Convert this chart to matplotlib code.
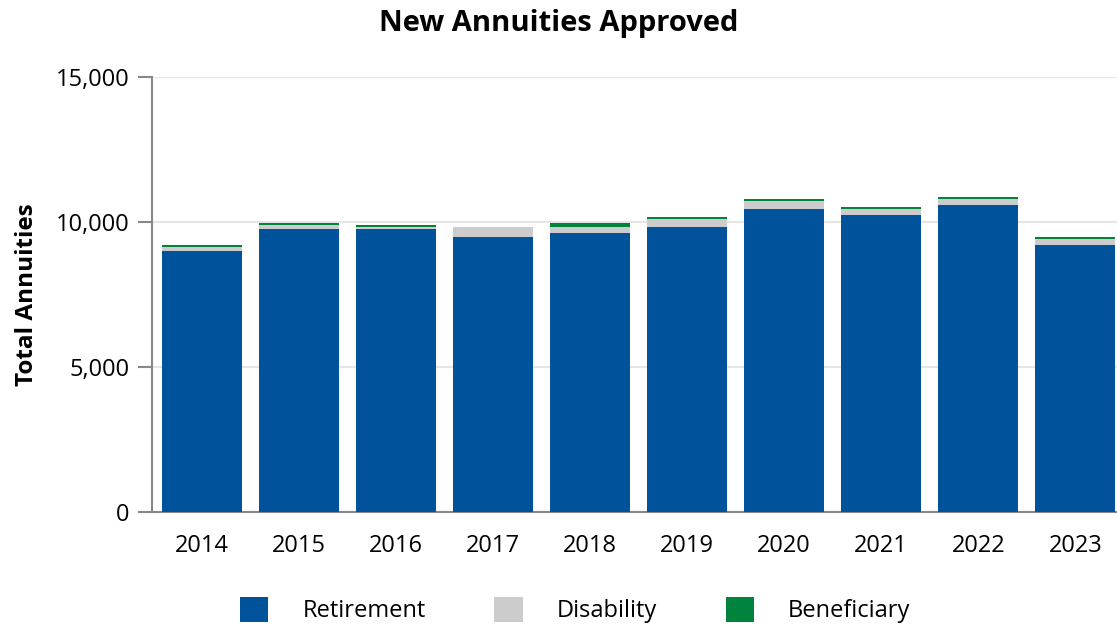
import matplotlib
matplotlib.use("Agg")
import matplotlib.pyplot as plt
from matplotlib.patches import Patch
from matplotlib.ticker import FuncFormatter
import numpy as np

plt.rcParams["font.family"] = ["Open Sans", "DejaVu Sans"]

years = ["2014", "2015", "2016", "2017", "2018", "2019", "2020", "2021", "2022", "2023"]
retirement = [9010, 9770, 9770, 9500, 9630, 9840, 10460, 10255, 10600, 9220]
disability = [140, 140, 70, 340, 210, 280, 280, 210, 210, 210]
beneficiary = [70, 70, 70, 0, 140, 70, 70, 70, 70, 70]

series = [
    ("Retirement", retirement, "#00539b"),
    ("Disability", disability, "#cccccc"),
    ("Beneficiary", beneficiary, "#00843d"),
]

fig = plt.figure(figsize=(11.17, 6.27), dpi=100)
ax = fig.add_axes([0.136, 0.183, 0.864, 0.694])

x = np.arange(len(years))
bottom = np.zeros(len(years))
for name, vals, color in series:
    ax.bar(x, vals, bottom=bottom, width=0.82, color=color, label=name, zorder=3)
    bottom += np.array(vals)

ax.set_xlim(-0.515, 9.43)
ax.set_ylim(0, 15000)
ax.set_yticks([0, 5000, 10000, 15000])
ax.yaxis.set_major_formatter(FuncFormatter(lambda v, _: f"{int(v):,}"))
ax.set_xticks(x)
ax.set_xticklabels(years)

ax.grid(axis="y", color="#e6e6e6", linewidth=1.5, zorder=0)
for s in ("top", "right"):
    ax.spines[s].set_visible(False)
ax.spines["left"].set_color("#888888")
ax.spines["left"].set_linewidth(1.5)
ax.spines["bottom"].set_color("#888888")
ax.spines["bottom"].set_linewidth(1.5)
ax.tick_params(axis="y", length=10, width=1.5, color="#888888", labelsize=17, pad=6)
ax.tick_params(axis="x", length=0, labelsize=17, pad=16)

ax.set_ylabel("Total Annuities", fontsize=17.5, fontweight="bold", labelpad=12)
fig.text(0.5, 0.963, "New Annuities Approved", ha="center", va="center",
         fontsize=21, fontweight="bold")

handles = [Patch(facecolor=c, edgecolor="none") for _, _, c in series]
fig.legend(handles, [n for n, _, _ in series], loc="center", bbox_to_anchor=(0.515, 0.027),
           ncol=3, frameon=False, fontsize=17, handlelength=1.2, handleheight=1.25,
           handletextpad=1.45, columnspacing=2.9)

fig.savefig("out.png", dpi=100)
